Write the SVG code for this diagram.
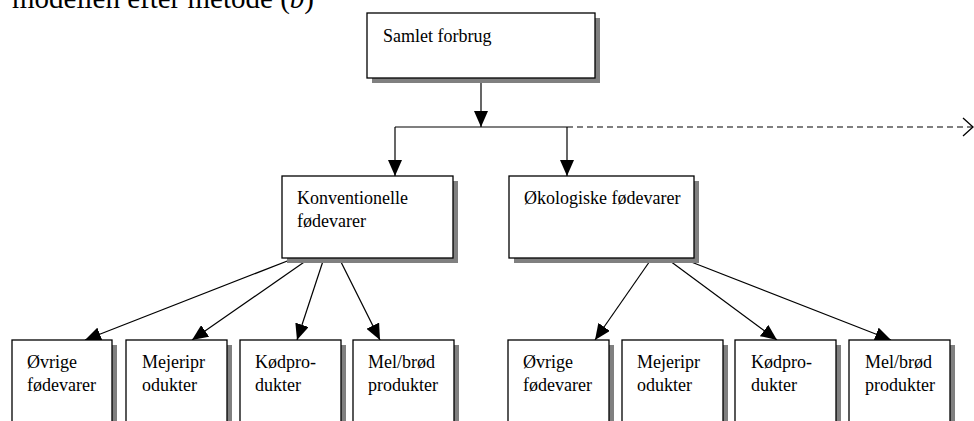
<svg xmlns="http://www.w3.org/2000/svg" width="974" height="421" viewBox="0 0 974 421">
<defs>
<marker id="arr" viewBox="0 0 16 14" markerWidth="16" markerHeight="14" refX="16" refY="7" orient="auto" markerUnits="userSpaceOnUse">
<path d="M0,0 L16,7 L0,14 Z" fill="#000"/>
</marker>
<marker id="open" viewBox="0 0 12 20" markerWidth="12" markerHeight="20" refX="11" refY="10" orient="auto" markerUnits="userSpaceOnUse">
<path d="M1,1 L11,10 L1,19" fill="none" stroke="#000" stroke-width="1.3"/>
</marker>
<style>
.box{fill:#fff;stroke:#000;stroke-width:1.3}
.sh{fill:#808080}
.t{font-family:"Liberation Serif","Times New Roman",serif;font-size:18px;fill:#000}
.c{stroke:#000;stroke-width:1.2;fill:none}
</style>
</defs>
<rect width="974" height="421" fill="#fff"/>
<text x="12" y="8" font-family="Liberation Serif, Times New Roman, serif" font-size="29" fill="#000">modellen efter metode (<tspan font-style="italic">b</tspan>)</text>

<g id="connectors">
<line class="c" x1="481" y1="78" x2="481" y2="127" marker-end="url(#arr)"/>
<line class="c" x1="395" y1="127" x2="567" y2="127"/>
<line class="c" x1="395" y1="127" x2="395" y2="176" marker-end="url(#arr)"/>
<line class="c" x1="567" y1="127" x2="567" y2="176" marker-end="url(#arr)"/>
<line class="c" x1="567" y1="127" x2="973" y2="127" stroke-dasharray="6 4" marker-end="url(#open)"/>
<line class="c" x1="295" y1="258" x2="85" y2="340" marker-end="url(#arr)"/>
<line class="c" x1="310" y1="258" x2="192" y2="340" marker-end="url(#arr)"/>
<line class="c" x1="324" y1="258" x2="297" y2="340" marker-end="url(#arr)"/>
<line class="c" x1="339" y1="258" x2="380" y2="340" marker-end="url(#arr)"/>
<line class="c" x1="652" y1="258" x2="595" y2="340" marker-end="url(#arr)"/>
<line class="c" x1="666" y1="258" x2="777" y2="340" marker-end="url(#arr)"/>
<line class="c" x1="681" y1="258" x2="891" y2="340" marker-end="url(#arr)"/>
</g>

<g id="samlet">
<rect class="sh" x="372" y="18" width="228" height="65"/>
<rect class="box" x="367" y="13" width="228" height="65"/>
<text class="t" x="383" y="42">Samlet forbrug</text>
</g>

<g id="konv">
<rect class="sh" x="287" y="181" width="171" height="82"/>
<rect class="box" x="282" y="176" width="171" height="82"/>
<text class="t" x="297" y="204">Konventionelle</text>
<text class="t" x="297" y="227">fødevarer</text>
</g>

<g id="oko">
<rect class="sh" x="514" y="181" width="185" height="82"/>
<rect class="box" x="509" y="176" width="185" height="82"/>
<text class="t" x="524" y="204">Økologiske fødevarer</text>
</g>

<g id="k-ovrige">
<rect class="sh" x="17" y="345" width="100" height="90"/>
<rect class="box" x="12" y="340" width="100" height="95"/>
<text class="t" x="27" y="368">Øvrige</text>
<text class="t" x="27" y="391">fødevarer</text>
</g>
<g id="k-mejeri">
<rect class="sh" x="131" y="345" width="101" height="90"/>
<rect class="box" x="126" y="340" width="101" height="95"/>
<text class="t" x="142" y="368">Mejeripr</text>
<text class="t" x="142" y="391">odukter</text>
</g>
<g id="k-kod">
<rect class="sh" x="245" y="345" width="101" height="90"/>
<rect class="box" x="240" y="340" width="101" height="95"/>
<text class="t" x="255" y="368">Kødpro-</text>
<text class="t" x="255" y="391">dukter</text>
</g>
<g id="k-mel">
<rect class="sh" x="358" y="345" width="101" height="90"/>
<rect class="box" x="353" y="340" width="101" height="95"/>
<text class="t" x="368" y="368">Mel/brød</text>
<text class="t" x="368" y="391">produkter</text>
</g>

<g id="o-ovrige">
<rect class="sh" x="513" y="345" width="101" height="90"/>
<rect class="box" x="508" y="340" width="101" height="95"/>
<text class="t" x="523" y="368">Øvrige</text>
<text class="t" x="523" y="391">fødevarer</text>
</g>
<g id="o-mejeri">
<rect class="sh" x="627" y="345" width="101" height="90"/>
<rect class="box" x="622" y="340" width="101" height="95"/>
<text class="t" x="637" y="368">Mejeripr</text>
<text class="t" x="637" y="391">odukter</text>
</g>
<g id="o-kod">
<rect class="sh" x="740" y="345" width="101" height="90"/>
<rect class="box" x="735" y="340" width="101" height="95"/>
<text class="t" x="751" y="368">Kødpro-</text>
<text class="t" x="751" y="391">dukter</text>
</g>
<g id="o-mel">
<rect class="sh" x="854" y="345" width="101" height="90"/>
<rect class="box" x="849" y="340" width="101" height="95"/>
<text class="t" x="865" y="368">Mel/brød</text>
<text class="t" x="865" y="391">produkter</text>
</g>
</svg>
